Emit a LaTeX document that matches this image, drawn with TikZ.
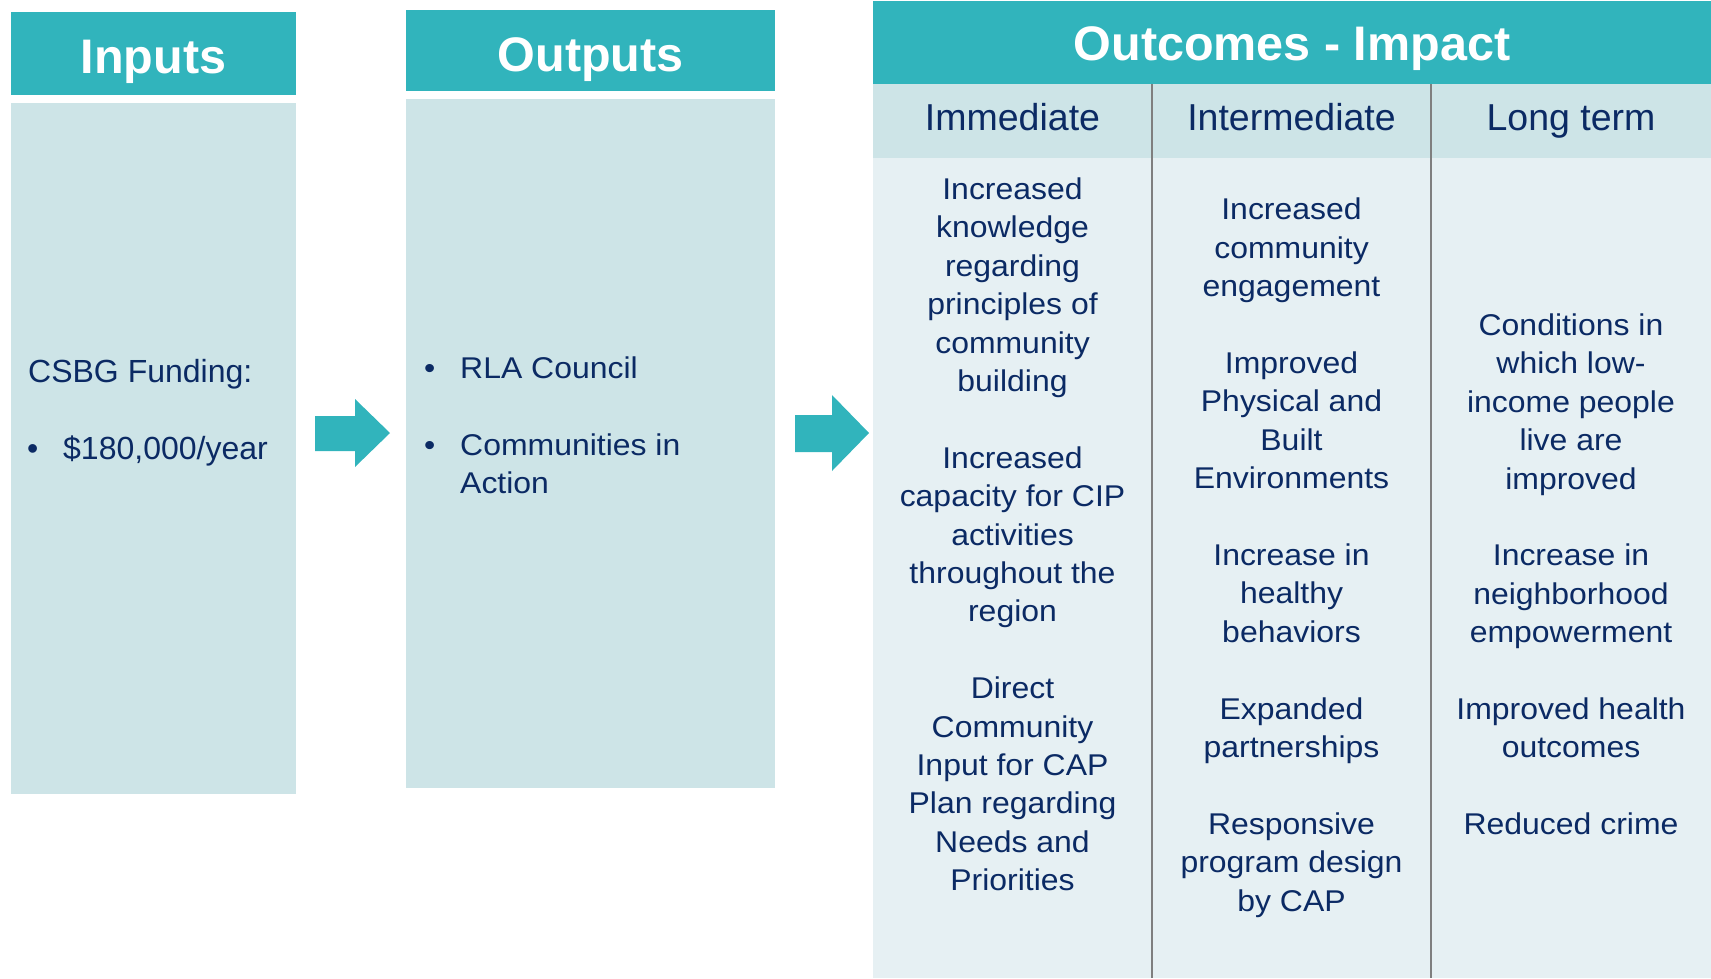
\documentclass[tikz,border=0pt]{standalone}
\usepackage{fontspec}
\setmainfont{Liberation Sans}
\newfontfamily\widefont[FakeStretch=1.065]{Liberation Sans}

\definecolor{teal}{HTML}{31B4BC}
\definecolor{paleteal}{HTML}{CDE4E7}
\definecolor{paleblue}{HTML}{E6F0F3}
\definecolor{navy}{HTML}{0B2A64}
\definecolor{rulegray}{HTML}{7F7F7F}

\tikzset{
  headtext/.style={anchor=base, text=white, inner sep=0pt,
    font=\fontsize{48.5}{58}\selectfont\bfseries},
  subtext/.style={anchor=base, text=navy, inner sep=0pt,
    font=\fontsize{37.5}{44}\selectfont},
  bodytext/.style={anchor=north, align=center, text=navy, inner sep=0pt,
    font=\widefont\fontsize{30}{38.4}\selectfont},
  itemtext/.style={anchor=base west, text=navy, inner sep=0pt,
    font=\widefont\fontsize{30}{38.4}\selectfont},
  fundtext/.style={anchor=base west, text=navy, inner sep=0pt,
    font=\fontsize{32}{38.4}\selectfont},
}

\begin{document}
\begin{tikzpicture}[x=1pt, y=-1pt]

  \useasboundingbox (0,0) rectangle (1711,978);

  %%-- INPUTS COLUMN (x = 11 to 296) --%%
  \fill[teal]      (11,12)  rectangle (296,95);
  \fill[paleteal]  (11,103) rectangle (296,794);
  \node[headtext] (inputs) at (153.5,73.3) {Inputs};
  \node[fundtext] (funding) at (28,382.7) {CSBG Funding:};
  \node[fundtext] (fundbullet) at (27,459.3) {\textbullet};
  \node[fundtext] (amount) at (63,459.3) {\$180,000/year};

  %%-- FIRST BLOCK ARROW --%%
  \fill[teal] (315,416) -- (355,416) -- (355,399) -- (390,433)
              -- (355,467) -- (355,451) -- (315,451) -- cycle;

  %%-- OUTPUTS COLUMN (x = 406 to 775) --%%
  \fill[teal]      (406,10) rectangle (775,91);
  \fill[paleteal]  (406,99) rectangle (775,788);
  \node[headtext] (outputs) at (590.7,71.7) {Outputs};
  \node[itemtext] (rlabullet) at (424,378.3) {\textbullet};
  \node[itemtext] (rla) at (460,378.3) {RLA Council};
  \node[itemtext] (cabullet) at (424,455) {\textbullet};
  \node[itemtext] (cia) at (460,455) {Communities in};
  \node[itemtext] (action) at (460,493.3) {Action};

  %%-- SECOND BLOCK ARROW --%%
  \fill[teal] (795,415) -- (832,415) -- (832,395) -- (869,433)
              -- (832,471) -- (832,452) -- (795,452) -- cycle;

  %%-- OUTCOMES - IMPACT (x = 873 to 1711) --%%
  \fill[teal]      (873,1)   rectangle (1711,84);
  \fill[paleteal]  (873,84)  rectangle (1711,158);
  \fill[paleblue]  (873,158) rectangle (1711,978);
  \node[headtext] (outcomes) at (1292,60) {Outcomes - Impact};

  % column rules at x = 1152 and x = 1431
  \draw[rulegray, line width=2pt] (1152,84) -- (1152,978);
  \draw[rulegray, line width=2pt] (1431,84) -- (1431,978);

  %% sub-column headers
  \node[subtext] (immediate)    at (1012.5,130) {Immediate};
  \node[subtext] (intermediate) at (1291.5,130) {Intermediate};
  \node[subtext] (longterm)     at (1571,130)   {Long term};

  %% sub-column entries (first baseline minus cap height)
  \node[bodytext] (immlist) at (1012.5,177.5) {%
    Increased\\knowledge\\regarding\\principles of\\community\\building\\[38.4pt]
    Increased\\capacity for CIP\\activities\\throughout the\\region\\[38.4pt]
    Direct\\Community\\Input for CAP\\Plan regarding\\Needs and\\Priorities};
  \node[bodytext] (intlist) at (1291.5,198) {%
    Increased\\community\\engagement\\[38.4pt]
    Improved\\Physical and\\Built\\Environments\\[38.4pt]
    Increase in\\healthy\\behaviors\\[38.4pt]
    Expanded\\partnerships\\[38.4pt]
    Responsive\\program design\\by CAP};
  \node[bodytext] (longlist) at (1571,313.5) {%
    Conditions in\\which low-\\income people\\live are\\improved\\[38.4pt]
    Increase in\\neighborhood\\empowerment\\[38.4pt]
    Improved health\\outcomes\\[38.4pt]
    Reduced crime};

\end{tikzpicture}
\end{document}
